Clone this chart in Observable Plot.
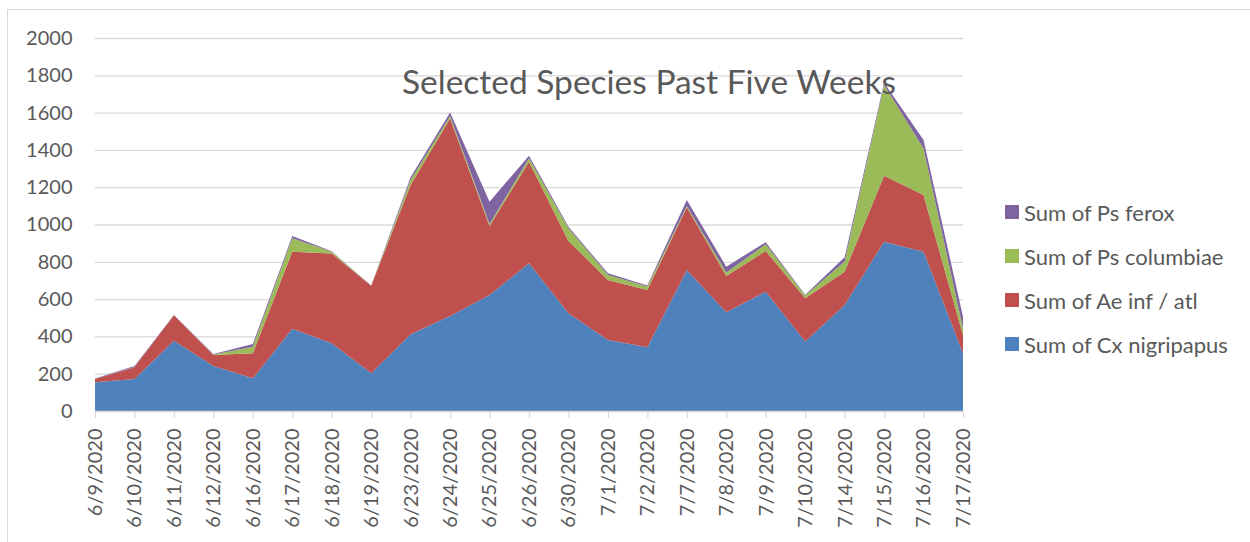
<!DOCTYPE html>
<html>
<head>
<meta charset="utf-8">
<script src="https://cdn.jsdelivr.net/npm/d3@7"></script>
<script src="https://cdn.jsdelivr.net/npm/@observablehq/plot@0.6"></script>
<style>
  html, body { margin: 0; padding: 0; background: #fff; }
  #wrap { position: relative; width: 1250px; height: 542px; overflow: hidden; font-family: Lato, "Open Sans", sans-serif; }
  #frame { position: absolute; left: 7px; top: 9px; width: 1260px; height: 560px; border-top: 1px solid #d9d9d9; border-left: 1px solid #d9d9d9; }
  #chart { position: absolute; left: 0; top: 0; }
  #title { position: absolute; left: 402px; top: 61px; font-size: 33.5px; line-height: 40px; color: #595959; white-space: nowrap; }
  #legend { position: absolute; left: 1005px; top: 0; }
  .item { position: absolute; left: 0; white-space: nowrap; font-size: 22px; color: #595959; display: flex; align-items: center; }
  .sw { width: 14px; height: 14px; margin-right: 5px; }
</style>
</head>
<body>
<div id="wrap">
  <div id="frame"></div>
  <div id="chart"></div>
  <div id="title">Selected Species Past Five Weeks</div>
  <div id="legend"></div>
</div>
<script>
const dates = ["6/9/2020","6/10/2020","6/11/2020","6/12/2020","6/16/2020","6/17/2020","6/18/2020","6/19/2020","6/23/2020","6/24/2020","6/25/2020","6/26/2020","6/30/2020","7/1/2020","7/2/2020","7/7/2020","7/8/2020","7/9/2020","7/10/2020","7/14/2020","7/15/2020","7/16/2020","7/17/2020"];
const cxNigripapus = [154,172,377,241,175,441,363,202,411,509,622,792,524,381,342,756,529,640,373,568,908,854,309];
const aeInfAtl     = [18,62,136,59,134,413,482,470,801,1060,370,545,388,321,307,336,195,218,232,179,354,304,98];
const psColumbiae  = [0,2,0,3,36,72,9,0,27,13,11,18,68,27,18,7,18,36,14,54,486,250,36];
const psFerox      = [2,5,2,2,14,12,2,1,14,18,119,14,8,9,6,32,32,11,4,23,12,45,63];
const seriesNames = ["Sum of Cx nigripapus","Sum of Ae inf / atl","Sum of Ps columbiae","Sum of Ps ferox"];
const seriesColors = ["#4f81bd","#c0504d","#9bbb59","#8064a2"];
const yTicks = [0,200,400,600,800,1000,1200,1400,1600,1800,2000];

const seriesValues = [cxNigripapus, aeInfAtl, psColumbiae, psFerox];
const data = [];
seriesNames.forEach((name, si) => {
  dates.forEach((d, i) => data.push({date: d, species: name, value: seriesValues[si][i]}));
});

const chart = Plot.plot({
  width: 1250,
  height: 542,
  marginLeft: 95,
  marginRight: 287,
  marginTop: 38,
  marginBottom: 131,
  style: {fontFamily: "Lato, 'Open Sans', sans-serif", color: "#595959", background: "transparent"},
  x: {type: "point", domain: dates, padding: 0, round: false, range: [95, 963], label: null},
  y: {domain: [0, 2000], range: [411, 38], label: null},
  color: {domain: seriesNames, range: seriesColors},
  marks: [
    Plot.gridY(yTicks, {stroke: "#d9d9d9", strokeOpacity: 1, strokeWidth: 1.3}),
    Plot.areaY(data, {x: "date", y: "value", fill: "species", z: "species", order: seriesNames, curve: "linear"}),
    Plot.ruleY([0], {stroke: "#d9d9d9", strokeWidth: 1.3}),
    Plot.axisY(yTicks, {tickSize: 0, tickPadding: 23, fontSize: 20, fill: "#595959", tickFormat: d => String(d), label: null}),
    Plot.axisX(dates, {tickSize: 7, tickPadding: 10, tickRotate: -90, fontSize: 20, fill: "#595959", stroke: "#d9d9d9", strokeWidth: 1.3, strokeOpacity: 1, label: null})
  ]
});
document.getElementById("chart").appendChild(chart);

const legend = document.getElementById("legend");
const legendOrder = [3, 2, 1, 0];
const rowY = [212, 256, 300, 344];
legendOrder.forEach((si, k) => {
  const item = document.createElement("div");
  item.className = "item";
  item.style.top = (rowY[k] - 13) + "px";
  item.style.height = "26px";
  const sw = document.createElement("span");
  sw.className = "sw";
  sw.style.background = seriesColors[si];
  const tx = document.createElement("span");
  tx.textContent = seriesNames[si];
  item.appendChild(sw);
  item.appendChild(tx);
  legend.appendChild(item);
});
</script>
</body>
</html>
